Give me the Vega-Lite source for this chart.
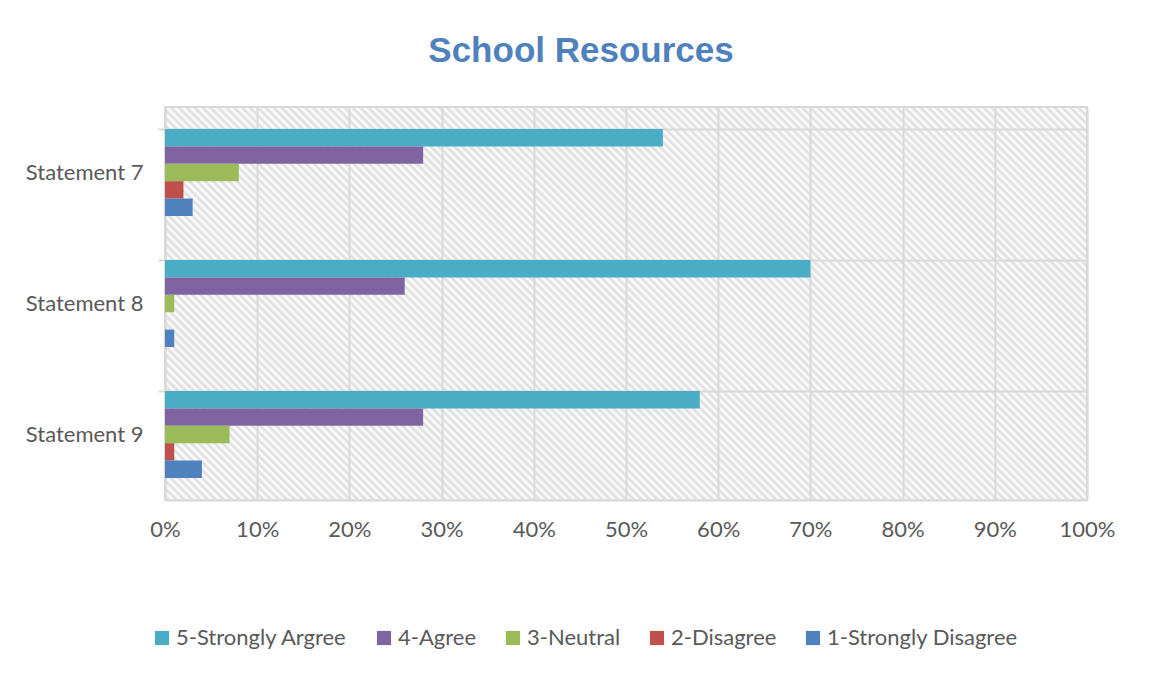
{
  "$schema": "https://vega.github.io/schema/vega-lite/v6.json",
  "autosize": {"type": "none"},
  "width": 922,
  "height": 393,
  "padding": {"left": 165, "top": 107, "right": 66, "bottom": 176},
  "background": "white",
  "title": {
    "text": "School Resources",
    "font": "Liberation Sans",
    "fontSize": 35,
    "fontWeight": "bold",
    "color": "#4F81BD",
    "anchor": "middle",
    "dx": -45,
    "offset": 38
  },
  "data": {
    "values": [
      {"statement": "Statement 7", "rating": "5-Strongly Argree", "value": 0.54},
      {"statement": "Statement 7", "rating": "4-Agree", "value": 0.28},
      {"statement": "Statement 7", "rating": "3-Neutral", "value": 0.08},
      {"statement": "Statement 7", "rating": "2-Disagree", "value": 0.02},
      {"statement": "Statement 7", "rating": "1-Strongly Disagree", "value": 0.03},
      {"statement": "Statement 8", "rating": "5-Strongly Argree", "value": 0.70},
      {"statement": "Statement 8", "rating": "4-Agree", "value": 0.26},
      {"statement": "Statement 8", "rating": "3-Neutral", "value": 0.01},
      {"statement": "Statement 8", "rating": "2-Disagree", "value": 0.0},
      {"statement": "Statement 8", "rating": "1-Strongly Disagree", "value": 0.01},
      {"statement": "Statement 9", "rating": "5-Strongly Argree", "value": 0.58},
      {"statement": "Statement 9", "rating": "4-Agree", "value": 0.28},
      {"statement": "Statement 9", "rating": "3-Neutral", "value": 0.07},
      {"statement": "Statement 9", "rating": "2-Disagree", "value": 0.01},
      {"statement": "Statement 9", "rating": "1-Strongly Disagree", "value": 0.04}
    ]
  },
  "mark": {"type": "bar", "stroke": null},
  "encoding": {
    "y": {
      "field": "statement",
      "type": "nominal",
      "sort": ["Statement 7", "Statement 8", "Statement 9"],
      "scale": {"paddingInner": 0.336, "paddingOuter": 0.168},
      "axis": {
        "title": null,
        "bandPosition": 0,
        "grid": true,
        "gridColor": "#D9D9D9",
        "gridWidth": 2,
        "domain": true,
        "domainColor": "#D9D9D9",
        "domainWidth": 2,
        "ticks": true,
        "tickColor": "#D9D9D9",
        "tickWidth": 2,
        "tickSize": 7,
        "labelFont": "Lato",
        "labelFontSize": 22,
        "labelColor": "#595959",
        "labelPadding": 15
      }
    },
    "yOffset": {
      "field": "rating",
      "type": "nominal",
      "sort": ["5-Strongly Argree", "4-Agree", "3-Neutral", "2-Disagree", "1-Strongly Disagree"],
      "scale": {"paddingInner": 0}
    },
    "x": {
      "field": "value",
      "type": "quantitative",
      "scale": {"domain": [0, 1], "nice": false},
      "axis": {
        "title": null,
        "format": ".0%",
        "values": [0, 0.1, 0.2, 0.3, 0.4, 0.5, 0.6, 0.7, 0.8, 0.9, 1],
        "labelOverlap": false,
        "labelFlush": false,
        "grid": true,
        "gridColor": "#D9D9D9",
        "gridWidth": 2,
        "domain": true,
        "domainColor": "#D9D9D9",
        "domainWidth": 2,
        "ticks": false,
        "labelFont": "Lato",
        "labelFontSize": 22,
        "labelColor": "#595959",
        "labelPadding": 19
      }
    },
    "color": {
      "field": "rating",
      "type": "nominal",
      "sort": ["5-Strongly Argree", "4-Agree", "3-Neutral", "2-Disagree", "1-Strongly Disagree"],
      "scale": {
        "domain": ["5-Strongly Argree", "4-Agree", "3-Neutral", "2-Disagree", "1-Strongly Disagree"],
        "range": ["#4BACC6", "#8064A2", "#9BBB59", "#C0504D", "#4F81BD"]
      },
      "legend": {
        "title": null,
        "orient": "none",
        "direction": "horizontal",
        "legendX": -14,
        "legendY": 520,
        "padding": 0,
        "symbolType": "square",
        "symbolSize": 200,
        "symbolStrokeWidth": 0,
        "symbolOpacity": 1,
        "labelFont": "Lato",
        "labelFontSize": 22,
        "labelColor": "#595959",
        "labelOffset": 3,
        "columnPadding": 25,
        "labelLimit": 300
      }
    }
  },
  "config": {
    "view": {
      "stroke": "#D9D9D9",
      "strokeWidth": 2,
      "fill": {
        "gradient": "linear",
        "x1": 0, "y1": 1, "x2": 1.2069, "y2": 0.4856,
        "stops": [
          {"offset":0,"color":"#fff"},{"offset":0.003,"color":"#dcdcdc"},{"offset":0.006,"color":"#fff"},{"offset":0.009,"color":"#dcdcdc"},{"offset":0.012,"color":"#fff"},{"offset":0.015,"color":"#dcdcdc"},{"offset":0.018,"color":"#fff"},{"offset":0.021,"color":"#dcdcdc"},{"offset":0.024,"color":"#fff"},{"offset":0.027,"color":"#dcdcdc"},
          {"offset":0.03,"color":"#fff"},{"offset":0.033,"color":"#dcdcdc"},{"offset":0.036,"color":"#fff"},{"offset":0.039,"color":"#dcdcdc"},{"offset":0.042,"color":"#fff"},{"offset":0.045,"color":"#dcdcdc"},{"offset":0.048,"color":"#fff"},{"offset":0.051,"color":"#dcdcdc"},{"offset":0.054,"color":"#fff"},{"offset":0.057,"color":"#dcdcdc"},
          {"offset":0.06,"color":"#fff"},{"offset":0.063,"color":"#dcdcdc"},{"offset":0.066,"color":"#fff"},{"offset":0.069,"color":"#dcdcdc"},{"offset":0.072,"color":"#fff"},{"offset":0.075,"color":"#dcdcdc"},{"offset":0.078,"color":"#fff"},{"offset":0.081,"color":"#dcdcdc"},{"offset":0.084,"color":"#fff"},{"offset":0.087,"color":"#dcdcdc"},
          {"offset":0.09,"color":"#fff"},{"offset":0.093,"color":"#dcdcdc"},{"offset":0.096,"color":"#fff"},{"offset":0.099,"color":"#dcdcdc"},{"offset":0.102,"color":"#fff"},{"offset":0.105,"color":"#dcdcdc"},{"offset":0.108,"color":"#fff"},{"offset":0.111,"color":"#dcdcdc"},{"offset":0.114,"color":"#fff"},{"offset":0.117,"color":"#dcdcdc"},
          {"offset":0.12,"color":"#fff"},{"offset":0.123,"color":"#dcdcdc"},{"offset":0.126,"color":"#fff"},{"offset":0.129,"color":"#dcdcdc"},{"offset":0.132,"color":"#fff"},{"offset":0.135,"color":"#dcdcdc"},{"offset":0.138,"color":"#fff"},{"offset":0.141,"color":"#dcdcdc"},{"offset":0.144,"color":"#fff"},{"offset":0.147,"color":"#dcdcdc"},
          {"offset":0.15,"color":"#fff"},{"offset":0.153,"color":"#dcdcdc"},{"offset":0.156,"color":"#fff"},{"offset":0.159,"color":"#dcdcdc"},{"offset":0.162,"color":"#fff"},{"offset":0.165,"color":"#dcdcdc"},{"offset":0.168,"color":"#fff"},{"offset":0.171,"color":"#dcdcdc"},{"offset":0.174,"color":"#fff"},{"offset":0.177,"color":"#dcdcdc"},
          {"offset":0.18,"color":"#fff"},{"offset":0.183,"color":"#dcdcdc"},{"offset":0.186,"color":"#fff"},{"offset":0.189,"color":"#dcdcdc"},{"offset":0.192,"color":"#fff"},{"offset":0.195,"color":"#dcdcdc"},{"offset":0.198,"color":"#fff"},{"offset":0.201,"color":"#dcdcdc"},{"offset":0.204,"color":"#fff"},{"offset":0.207,"color":"#dcdcdc"},
          {"offset":0.21,"color":"#fff"},{"offset":0.213,"color":"#dcdcdc"},{"offset":0.216,"color":"#fff"},{"offset":0.219,"color":"#dcdcdc"},{"offset":0.222,"color":"#fff"},{"offset":0.225,"color":"#dcdcdc"},{"offset":0.228,"color":"#fff"},{"offset":0.231,"color":"#dcdcdc"},{"offset":0.234,"color":"#fff"},{"offset":0.237,"color":"#dcdcdc"},
          {"offset":0.24,"color":"#fff"},{"offset":0.243,"color":"#dcdcdc"},{"offset":0.246,"color":"#fff"},{"offset":0.249,"color":"#dcdcdc"},{"offset":0.252,"color":"#fff"},{"offset":0.255,"color":"#dcdcdc"},{"offset":0.258,"color":"#fff"},{"offset":0.261,"color":"#dcdcdc"},{"offset":0.264,"color":"#fff"},{"offset":0.267,"color":"#dcdcdc"},
          {"offset":0.27,"color":"#fff"},{"offset":0.273,"color":"#dcdcdc"},{"offset":0.276,"color":"#fff"},{"offset":0.279,"color":"#dcdcdc"},{"offset":0.282,"color":"#fff"},{"offset":0.285,"color":"#dcdcdc"},{"offset":0.288,"color":"#fff"},{"offset":0.291,"color":"#dcdcdc"},{"offset":0.294,"color":"#fff"},{"offset":0.297,"color":"#dcdcdc"},
          {"offset":0.3,"color":"#fff"},{"offset":0.303,"color":"#dcdcdc"},{"offset":0.306,"color":"#fff"},{"offset":0.309,"color":"#dcdcdc"},{"offset":0.312,"color":"#fff"},{"offset":0.315,"color":"#dcdcdc"},{"offset":0.318,"color":"#fff"},{"offset":0.321,"color":"#dcdcdc"},{"offset":0.324,"color":"#fff"},{"offset":0.327,"color":"#dcdcdc"},
          {"offset":0.33,"color":"#fff"},{"offset":0.333,"color":"#dcdcdc"},{"offset":0.336,"color":"#fff"},{"offset":0.339,"color":"#dcdcdc"},{"offset":0.342,"color":"#fff"},{"offset":0.345,"color":"#dcdcdc"},{"offset":0.348,"color":"#fff"},{"offset":0.351,"color":"#dcdcdc"},{"offset":0.354,"color":"#fff"},{"offset":0.357,"color":"#dcdcdc"},
          {"offset":0.36,"color":"#fff"},{"offset":0.363,"color":"#dcdcdc"},{"offset":0.366,"color":"#fff"},{"offset":0.369,"color":"#dcdcdc"},{"offset":0.372,"color":"#fff"},{"offset":0.375,"color":"#dcdcdc"},{"offset":0.378,"color":"#fff"},{"offset":0.381,"color":"#dcdcdc"},{"offset":0.384,"color":"#fff"},{"offset":0.387,"color":"#dcdcdc"},
          {"offset":0.39,"color":"#fff"},{"offset":0.393,"color":"#dcdcdc"},{"offset":0.396,"color":"#fff"},{"offset":0.399,"color":"#dcdcdc"},{"offset":0.402,"color":"#fff"},{"offset":0.405,"color":"#dcdcdc"},{"offset":0.408,"color":"#fff"},{"offset":0.411,"color":"#dcdcdc"},{"offset":0.414,"color":"#fff"},{"offset":0.417,"color":"#dcdcdc"},
          {"offset":0.42,"color":"#fff"},{"offset":0.423,"color":"#dcdcdc"},{"offset":0.426,"color":"#fff"},{"offset":0.429,"color":"#dcdcdc"},{"offset":0.432,"color":"#fff"},{"offset":0.435,"color":"#dcdcdc"},{"offset":0.438,"color":"#fff"},{"offset":0.441,"color":"#dcdcdc"},{"offset":0.444,"color":"#fff"},{"offset":0.447,"color":"#dcdcdc"},
          {"offset":0.45,"color":"#fff"},{"offset":0.453,"color":"#dcdcdc"},{"offset":0.456,"color":"#fff"},{"offset":0.459,"color":"#dcdcdc"},{"offset":0.462,"color":"#fff"},{"offset":0.465,"color":"#dcdcdc"},{"offset":0.468,"color":"#fff"},{"offset":0.471,"color":"#dcdcdc"},{"offset":0.474,"color":"#fff"},{"offset":0.477,"color":"#dcdcdc"},
          {"offset":0.48,"color":"#fff"},{"offset":0.483,"color":"#dcdcdc"},{"offset":0.486,"color":"#fff"},{"offset":0.489,"color":"#dcdcdc"},{"offset":0.492,"color":"#fff"},{"offset":0.495,"color":"#dcdcdc"},{"offset":0.498,"color":"#fff"},{"offset":0.501,"color":"#dcdcdc"},{"offset":0.504,"color":"#fff"},{"offset":0.507,"color":"#dcdcdc"},
          {"offset":0.51,"color":"#fff"},{"offset":0.513,"color":"#dcdcdc"},{"offset":0.516,"color":"#fff"},{"offset":0.519,"color":"#dcdcdc"},{"offset":0.522,"color":"#fff"},{"offset":0.525,"color":"#dcdcdc"},{"offset":0.528,"color":"#fff"},{"offset":0.531,"color":"#dcdcdc"},{"offset":0.534,"color":"#fff"},{"offset":0.537,"color":"#dcdcdc"},
          {"offset":0.54,"color":"#fff"},{"offset":0.543,"color":"#dcdcdc"},{"offset":0.546,"color":"#fff"},{"offset":0.549,"color":"#dcdcdc"},{"offset":0.552,"color":"#fff"},{"offset":0.555,"color":"#dcdcdc"},{"offset":0.558,"color":"#fff"},{"offset":0.561,"color":"#dcdcdc"},{"offset":0.564,"color":"#fff"},{"offset":0.567,"color":"#dcdcdc"},
          {"offset":0.57,"color":"#fff"},{"offset":0.573,"color":"#dcdcdc"},{"offset":0.576,"color":"#fff"},{"offset":0.579,"color":"#dcdcdc"},{"offset":0.582,"color":"#fff"},{"offset":0.585,"color":"#dcdcdc"},{"offset":0.588,"color":"#fff"},{"offset":0.591,"color":"#dcdcdc"},{"offset":0.594,"color":"#fff"},{"offset":0.597,"color":"#dcdcdc"},
          {"offset":0.6,"color":"#fff"},{"offset":0.603,"color":"#dcdcdc"},{"offset":0.606,"color":"#fff"},{"offset":0.609,"color":"#dcdcdc"},{"offset":0.612,"color":"#fff"},{"offset":0.615,"color":"#dcdcdc"},{"offset":0.618,"color":"#fff"},{"offset":0.621,"color":"#dcdcdc"},{"offset":0.624,"color":"#fff"},{"offset":0.627,"color":"#dcdcdc"},
          {"offset":0.63,"color":"#fff"},{"offset":0.633,"color":"#dcdcdc"},{"offset":0.636,"color":"#fff"},{"offset":0.639,"color":"#dcdcdc"},{"offset":0.642,"color":"#fff"},{"offset":0.645,"color":"#dcdcdc"},{"offset":0.648,"color":"#fff"},{"offset":0.651,"color":"#dcdcdc"},{"offset":0.654,"color":"#fff"},{"offset":0.657,"color":"#dcdcdc"},
          {"offset":0.66,"color":"#fff"},{"offset":0.663,"color":"#dcdcdc"},{"offset":0.666,"color":"#fff"},{"offset":0.669,"color":"#dcdcdc"},{"offset":0.672,"color":"#fff"},{"offset":0.675,"color":"#dcdcdc"},{"offset":0.678,"color":"#fff"},{"offset":0.681,"color":"#dcdcdc"},{"offset":0.684,"color":"#fff"},{"offset":0.687,"color":"#dcdcdc"},
          {"offset":0.69,"color":"#fff"},{"offset":0.693,"color":"#dcdcdc"},{"offset":0.696,"color":"#fff"},{"offset":0.699,"color":"#dcdcdc"},{"offset":0.702,"color":"#fff"},{"offset":0.705,"color":"#dcdcdc"},{"offset":0.708,"color":"#fff"},{"offset":0.711,"color":"#dcdcdc"},{"offset":0.714,"color":"#fff"},{"offset":0.717,"color":"#dcdcdc"},
          {"offset":0.72,"color":"#fff"},{"offset":0.723,"color":"#dcdcdc"},{"offset":0.726,"color":"#fff"},{"offset":0.729,"color":"#dcdcdc"},{"offset":0.732,"color":"#fff"},{"offset":0.735,"color":"#dcdcdc"},{"offset":0.738,"color":"#fff"},{"offset":0.741,"color":"#dcdcdc"},{"offset":0.744,"color":"#fff"},{"offset":0.747,"color":"#dcdcdc"},
          {"offset":0.75,"color":"#fff"},{"offset":0.753,"color":"#dcdcdc"},{"offset":0.756,"color":"#fff"},{"offset":0.759,"color":"#dcdcdc"},{"offset":0.762,"color":"#fff"},{"offset":0.765,"color":"#dcdcdc"},{"offset":0.768,"color":"#fff"},{"offset":0.771,"color":"#dcdcdc"},{"offset":0.774,"color":"#fff"},{"offset":0.777,"color":"#dcdcdc"},
          {"offset":0.78,"color":"#fff"},{"offset":0.783,"color":"#dcdcdc"},{"offset":0.786,"color":"#fff"},{"offset":0.789,"color":"#dcdcdc"},{"offset":0.792,"color":"#fff"},{"offset":0.795,"color":"#dcdcdc"},{"offset":0.798,"color":"#fff"},{"offset":0.801,"color":"#dcdcdc"},{"offset":0.804,"color":"#fff"},{"offset":0.807,"color":"#dcdcdc"},
          {"offset":0.81,"color":"#fff"},{"offset":0.813,"color":"#dcdcdc"},{"offset":0.816,"color":"#fff"},{"offset":0.819,"color":"#dcdcdc"},{"offset":0.822,"color":"#fff"},{"offset":0.825,"color":"#dcdcdc"},{"offset":0.828,"color":"#fff"},{"offset":0.831,"color":"#dcdcdc"},{"offset":0.834,"color":"#fff"},{"offset":0.837,"color":"#dcdcdc"},
          {"offset":0.84,"color":"#fff"},{"offset":0.843,"color":"#dcdcdc"},{"offset":0.846,"color":"#fff"},{"offset":0.849,"color":"#dcdcdc"},{"offset":0.852,"color":"#fff"},{"offset":0.855,"color":"#dcdcdc"},{"offset":0.858,"color":"#fff"},{"offset":0.861,"color":"#dcdcdc"},{"offset":0.864,"color":"#fff"},{"offset":0.867,"color":"#dcdcdc"},
          {"offset":0.87,"color":"#fff"},{"offset":0.873,"color":"#dcdcdc"},{"offset":0.876,"color":"#fff"},{"offset":0.879,"color":"#dcdcdc"},{"offset":0.882,"color":"#fff"},{"offset":0.885,"color":"#dcdcdc"},{"offset":0.888,"color":"#fff"},{"offset":0.891,"color":"#dcdcdc"},{"offset":0.894,"color":"#fff"},{"offset":0.897,"color":"#dcdcdc"},
          {"offset":0.9,"color":"#fff"},{"offset":0.903,"color":"#dcdcdc"},{"offset":0.906,"color":"#fff"},{"offset":0.909,"color":"#dcdcdc"},{"offset":0.912,"color":"#fff"},{"offset":0.915,"color":"#dcdcdc"},{"offset":0.918,"color":"#fff"},{"offset":0.921,"color":"#dcdcdc"},{"offset":0.924,"color":"#fff"},{"offset":0.927,"color":"#dcdcdc"},
          {"offset":0.93,"color":"#fff"},{"offset":0.933,"color":"#dcdcdc"},{"offset":0.936,"color":"#fff"},{"offset":0.939,"color":"#dcdcdc"},{"offset":0.942,"color":"#fff"},{"offset":0.945,"color":"#dcdcdc"},{"offset":0.948,"color":"#fff"},{"offset":0.951,"color":"#dcdcdc"},{"offset":0.954,"color":"#fff"},{"offset":0.957,"color":"#dcdcdc"},
          {"offset":0.96,"color":"#fff"},{"offset":0.963,"color":"#dcdcdc"},{"offset":0.966,"color":"#fff"},{"offset":0.969,"color":"#dcdcdc"},{"offset":0.972,"color":"#fff"},{"offset":0.975,"color":"#dcdcdc"},{"offset":0.978,"color":"#fff"},{"offset":0.981,"color":"#dcdcdc"},{"offset":0.984,"color":"#fff"},{"offset":0.987,"color":"#dcdcdc"},
          {"offset":0.99,"color":"#fff"},{"offset":0.993,"color":"#dcdcdc"},{"offset":0.996,"color":"#fff"},{"offset":0.999,"color":"#dcdcdc"}
        ]
      }
    }
  }
}
